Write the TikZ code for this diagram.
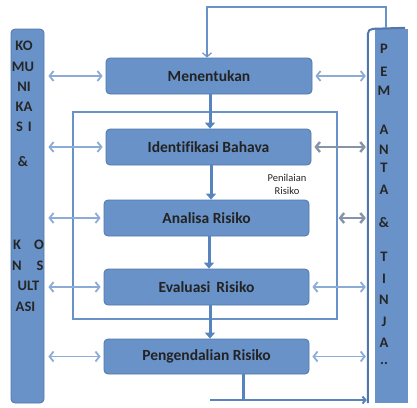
\documentclass[tikz,border=0pt]{standalone}
\usepackage{fontspec}
\setmainfont{Carlito}[Ligatures={NoCommon}]
\usetikzlibrary{arrows.meta}
\definecolor{boxfill}{RGB}{104,146,200}
\definecolor{boxline}{RGB}{80,118,172}
\definecolor{arrowc}{RGB}{140,172,216}
\definecolor{thickc}{RGB}{88,132,190}
\definecolor{framec}{RGB}{104,146,200}
\definecolor{txt}{RGB}{35,35,35}
\tikzset{
  stepbox/.style={draw=boxline, line width=0.8pt, fill=boxfill, rounded corners=4pt,
    minimum width=205pt, minimum height=36pt, inner sep=0pt,
    font=\fontsize{15.5}{17}\selectfont\bfseries, text=txt},
  bar/.style={draw=boxline, line width=0.8pt, fill=boxfill, rounded corners=4pt, inner sep=0pt},
  barlbl/.style={font=\fontsize{14.5}{15}\selectfont\bfseries, text=black!85, inner sep=0pt},
  dbl/.style={draw=arrowc, line width=1.8pt,
    {Straight Barb[length=4pt,width=10pt]}-{Straight Barb[length=4pt,width=10pt]}},
  dblg/.style={draw=gray!55!arrowc, line width=2.4pt,
    {Straight Barb[length=4pt,width=10pt]}-{Straight Barb[length=4pt,width=10pt]}},
  down/.style={draw=thickc, line width=3pt, -{Triangle[length=6pt,width=10pt]}},
  thin/.style={draw=framec, line width=1.2pt},
}
\begin{document}
\begin{tikzpicture}[x=1pt,y=-1pt]
\useasboundingbox (0,0) rectangle (417,407);
% side bars
\node[bar, minimum width=33pt, minimum height=374pt] (lbar) at (27.5,216) {};
\node[minimum width=41pt, minimum height=375pt, inner sep=0pt] (rbo) at (387.5,215.5) {};
\node[fill=boxfill, minimum width=33pt, minimum height=374pt, inner sep=0pt] (rbar) at (391.5,216) {};
\draw[draw=boxline, line width=2pt] ([xshift=1pt]rbo.south west) -- ([xshift=1pt,yshift=-6pt]rbo.north west)
  arc[start angle=180, end angle=90, radius=5pt] -- ([xshift=-3pt]rbo.north east);
% frame
\node[thin, draw, minimum width=264pt, minimum height=207pt, inner sep=0pt] (pr) at (205,215.5) {};
% steps
\node[stepbox, minimum width=206pt] (men) at (209,76) {Menentukan};
\node[stepbox] (idf) at (208.5,147) {Identifikasi Bahava};
\node[stepbox] (ana) at (206.5,218) {Analisa Risiko};
\node[stepbox] (eva) at (206.5,287) {Evaluasi\, Risiko};
\node[stepbox, minimum height=35pt] (pen) at (206.5,356.5) {Pengendalian Risiko};
\node[font=\fontsize{10.5}{13}\selectfont, text=txt, align=center] (pnl) at (287,184) {Penilaian\\Risiko};
% vertical arrows
\draw[down] (men.south -| 210,0) -- (idf.north -| 210,0);
\draw[down] (idf.south -| 211,0) -- (ana.north -| 211,0);
\draw[down] (ana.south -| 209,0) -- (eva.north -| 209,0);
\draw[down] (eva.south -| 210,0) -- (pen.north -| 210,0);
% left arrows
\foreach \b in {men,idf,ana,eva,pen}{
  \draw[dbl] ([xshift=4pt]lbar.east |- \b.west) -- ([xshift=-3pt]\b.west);
}
% right arrows
\draw[dbl] ([xshift=3pt]men.east) -- ([xshift=-1pt]rbo.west |- men.east);
\draw[dblg] ([xshift=3pt]idf.east) -- ([xshift=-1pt]rbo.west |- idf.east);
\draw[dblg] ([xshift=1pt]pr.east |- ana.east) -- ([xshift=-1pt]rbo.west |- ana.east);
\draw[dbl] ([xshift=3pt]eva.east) -- ([xshift=-1pt]rbo.west |- eva.east);
\draw[dbl] ([xshift=3pt]pen.east) -- ([xshift=-1pt]rbo.west |- pen.east);
% top loop
\coordinate (tr) at (386,7);
\draw[thin, -{Straight Barb[length=4pt,width=9pt]}] (rbo.north -| tr) -- (tr) -| ([xshift=-2pt]men.north);
% bottom
\coordinate (bl) at (210,400);
\draw[draw=thickc, line width=3pt] ([xshift=36.5pt]pen.south) -- ([xshift=36.5pt]pen.south |- bl);
\draw[draw=thickc, line width=2pt, -{Straight Barb[length=3pt,width=7pt]}] (bl) -- (rbo.west |- bl);
% left bar text
\node[barlbl] at (24,46) {KO};
\node[barlbl] at (23,67) {MU};
\node[barlbl] at (24,87) {NI};
\node[barlbl] at (24,107) {KA};
\node[barlbl] at (24,127) {S\,\,I};
\node[barlbl] at (23,162) {\&};
\node[barlbl] at (17,245) {K};
\node[barlbl] at (39,245) {O};
\node[barlbl] at (17,266) {N};
\node[barlbl] at (40,266) {S};
\node[barlbl] at (28.5,286) {ULT};
\node[barlbl] at (25.5,307) {ASI};
% right bar text
\foreach \t/\y in {P/49,E/72,M/91,A/130,N/150,T/168,A/190,\&/223,T/257,I/279,N/300,J/322,A/343}{
  \node[barlbl] at (384,\y) {\t};
}
\node[font=\fontsize{14.5}{15}\selectfont\bfseries, text=black!85, inner sep=0pt, anchor=base] at (384,364) {..};
\end{tikzpicture}
\end{document}
